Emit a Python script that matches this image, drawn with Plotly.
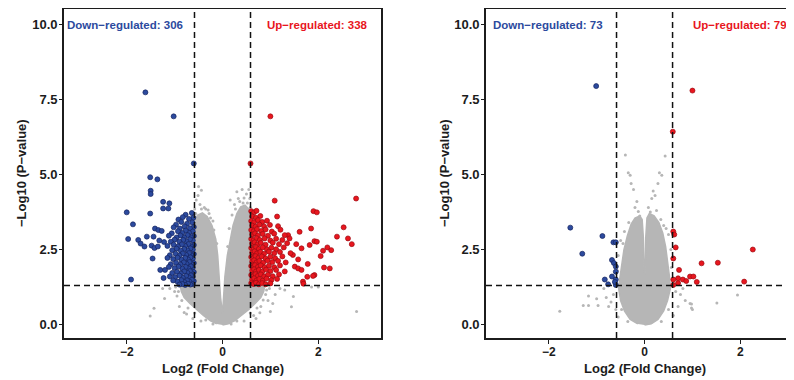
import plotly.graph_objects as go

# ---------------- data ----------------
FC_CUT = 0.585   # log2(1.5)
P_CUT = 1.301    # -log10(0.05)

# Left panel: dense grey core (outline of the non-significant cloud)
L_core_x = [0.0, 0.12, 0.25, 0.4, 0.55, 0.68, 0.8, 0.86, 0.88, 0.6, 0.6, 0.55, 0.47, 0.38, 0.3, 0.22, 0.16,
            0.1, 0.05, 0.02, 0.0, -0.04, -0.07, -0.1, -0.14, -0.22, -0.32, -0.42, -0.52, -0.6, -0.6, -0.88,
            -0.86, -0.8, -0.68, -0.55, -0.4, -0.25, -0.12]
L_core_y = [-0.02, 0.02, 0.12, 0.3, 0.5, 0.7, 0.9, 1.1, 1.28, 1.3, 3.5, 3.85, 3.98, 3.92, 3.7, 3.3, 2.85,
            2.3, 1.6, 0.9, 0.35, 0.9, 1.6, 2.3, 2.85, 3.3, 3.6, 3.72, 3.65, 3.45, 1.3, 1.28,
            1.1, 0.9, 0.7, 0.5, 0.3, 0.12, 0.02]

L_grey = [(-0.5, 4.6), (-0.44, 4.48), (-0.51, 4.3), (-0.55, 4.15), (-0.47, 4.0), (-0.38, 3.9), (-0.3, 3.82),
          (-0.25, 3.55), (-0.58, 3.85), (0.3, 4.43), (0.33, 4.2), (0.16, 4.15), (0.41, 4.5), (0.5, 4.35),
          (0.55, 4.5), (0.45, 4.22), (0.25, 4.0), (0.2, 3.65), (0.57, 4.2), (0.14, 3.2), (-0.18, 3.15),
          (0.52, 4.05), (0.36, 4.1), (0.27, 3.85), (-0.2, 3.45), (-0.35, 3.85), (-0.56, 3.7), (-0.12, 2.7),
          (0.11, 2.6), (-0.44, 3.85), (0.43, 4.05), (0.58, 3.9), (-0.28, 3.7),
          (-1.21, 0.87), (-1.43, 0.54), (-1.51, 0.28), (-1.0, 1.1), (-1.1, 1.2), (-0.95, 0.95), (-0.9, 0.6),
          (-0.8, 0.4), (-1.25, 1.2), (-0.98, 1.25), (-0.75, 0.35), (-0.62, 0.2), (-0.45, 0.12),
          (-0.92, 1.1), (-0.85, 0.8), (-0.72, 0.55), (-0.58, 0.38), (-0.35, 0.15), (-0.2, 0.02),
          (1.48, 0.93), (1.44, 0.59), (2.8, 0.43), (1.0, 0.43), (0.78, 0.39), (1.1, 1.0), (1.2, 1.2),
          (0.95, 0.8), (0.8, 0.6), (1.3, 1.15), (0.98, 1.2), (0.9, 1.0), (1.05, 0.7), (0.65, 0.3),
          (0.45, 0.12), (1.86, 1.25), (2.0, 1.25), (0.7, 0.2), (0.92, 1.15), (0.85, 0.82), (0.72, 0.55),
          (0.58, 0.38), (0.3, 0.12), (0.18, 0.02)]

L_down = [(-1.61, 7.74), (-1.02, 6.94), (-0.6, 5.37), (-1.51, 4.91), (-1.36, 4.84), (-1.5, 4.46), (-1.5, 4.35),
          (-1.24, 4.09), (-1.11, 4.04), (-1.24, 3.87), (-1.13, 3.87), (-2.0, 3.74), (-1.51, 3.7), (-1.87, 3.34),
          (-1.41, 3.2), (-1.34, 3.15), (-1.27, 3.12), (-1.58, 2.93), (-1.44, 2.93), (-1.97, 2.85), (-1.76, 2.82),
          (-1.71, 2.7), (-1.63, 2.6), (-1.48, 2.63), (-1.42, 2.55), (-1.32, 2.8), (-1.22, 2.75), (-1.35, 2.6),
          (-1.46, 2.2), (-1.3, 1.82), (-1.2, 1.82), (-1.91, 1.5), (-1.23, 1.55), (-1.1, 1.6),
          (-0.64, 3.72), (-0.77, 3.66),
          (-0.61, 3.56), (-0.7, 3.52), (-0.83, 3.58), (-0.92, 3.5),
          (-0.63, 3.4), (-0.74, 3.36), (-0.86, 3.42), (-0.97, 3.33),
          (-0.6, 3.25), (-0.68, 3.21), (-0.79, 3.27), (-0.89, 3.2), (-1.02, 3.24),
          (-0.62, 3.1), (-0.7, 3.06), (-0.77, 3.13), (-0.84, 3.05), (-0.93, 3.11), (-1.06, 3.04),
          (-0.6, 2.95), (-0.66, 2.91), (-0.73, 2.98), (-0.8, 2.9), (-0.88, 2.97), (-0.96, 2.9), (-1.12, 2.96),
          (-0.62, 2.8), (-0.68, 2.84), (-0.75, 2.77), (-0.82, 2.82), (-0.9, 2.76), (-1.0, 2.83), (-1.08, 2.76),
          (-0.6, 2.65), (-0.66, 2.61), (-0.71, 2.68), (-0.78, 2.62), (-0.85, 2.67), (-0.93, 2.6), (-1.02, 2.66), (-1.15, 2.62),
          (-0.62, 2.5), (-0.67, 2.54), (-0.73, 2.47), (-0.8, 2.52), (-0.87, 2.46), (-0.96, 2.53), (-1.05, 2.48),
          (-0.6, 2.35), (-0.65, 2.31), (-0.7, 2.38), (-0.76, 2.32), (-0.83, 2.37), (-0.9, 2.3), (-0.98, 2.36), (-1.1, 2.31),
          (-0.62, 2.2), (-0.67, 2.24), (-0.72, 2.17), (-0.78, 2.22), (-0.86, 2.16), (-0.94, 2.23), (-1.03, 2.18), (-1.15, 2.22),
          (-0.6, 2.05), (-0.64, 2.01), (-0.69, 2.08), (-0.75, 2.02), (-0.81, 2.07), (-0.88, 2.0), (-0.97, 2.06), (-1.08, 2.01),
          (-0.62, 1.9), (-0.66, 1.94), (-0.71, 1.87), (-0.77, 1.92), (-0.84, 1.86), (-0.92, 1.93), (-1.0, 1.88), (-1.12, 1.92),
          (-0.6, 1.75), (-0.64, 1.71), (-0.68, 1.78), (-0.73, 1.72), (-0.8, 1.77), (-0.87, 1.7), (-0.95, 1.76), (-1.05, 1.72),
          (-0.62, 1.6), (-0.66, 1.64), (-0.7, 1.57), (-0.76, 1.62), (-0.83, 1.56), (-0.9, 1.63), (-0.99, 1.58),
          (-0.6, 1.45), (-0.64, 1.49), (-0.69, 1.43), (-0.74, 1.47), (-0.8, 1.42), (-0.86, 1.48), (-0.94, 1.43), (-1.03, 1.47),
          (-0.62, 1.35), (-0.67, 1.33), (-0.72, 1.36), (-0.78, 1.32), (-0.84, 1.35), (-0.9, 1.33)]

L_up = [(1.0, 6.94), (0.585, 5.37), (1.09, 4.13), (2.79, 4.2), (1.9, 3.78), (1.97, 3.74), (1.14, 3.6), (1.85, 3.2),
        (2.53, 3.24), (2.62, 2.87), (2.7, 2.68), (2.39, 2.93), (1.92, 2.78), (1.97, 2.76), (1.82, 2.65), (2.19, 2.57),
        (2.27, 2.48), (2.1, 2.46), (2.05, 2.28), (1.78, 2.02), (2.12, 1.9), (2.24, 1.87), (1.92, 1.65), (1.77, 1.59),
        (1.68, 1.43), (1.51, 1.93), (1.58, 1.87), (1.65, 1.82), (1.47, 2.32), (1.58, 2.17), (1.65, 2.54), (1.54, 2.68),
        (1.61, 3.09), (1.37, 2.98), (1.4, 2.87), (1.89, 1.62), (1.69, 1.36),
        (0.6, 3.78), (0.66, 3.74), (0.71, 3.79),
        (0.62, 3.6), (0.7, 3.56), (0.79, 3.62),
        (0.6, 3.45), (0.66, 3.41), (0.74, 3.48), (0.83, 3.42), (0.93, 3.46),
        (0.62, 3.3), (0.69, 3.26), (0.77, 3.33), (0.87, 3.27), (0.99, 3.32), (1.16, 3.28),
        (0.6, 3.15), (0.65, 3.11), (0.72, 3.18), (0.81, 3.12), (0.9, 3.17), (1.03, 3.1), (1.21, 3.16),
        (0.62, 3.0), (0.68, 3.04), (0.74, 2.97), (0.84, 3.02), (0.95, 2.96), (1.08, 3.03), (1.3, 2.98),
        (0.6, 2.85), (0.65, 2.81), (0.71, 2.88), (0.78, 2.82), (0.88, 2.87), (1.0, 2.8), (1.12, 2.86), (1.25, 2.82),
        (0.62, 2.7), (0.67, 2.74), (0.73, 2.67), (0.8, 2.72), (0.9, 2.66), (1.05, 2.73), (1.18, 2.68), (1.35, 2.71),
        (0.6, 2.55), (0.65, 2.51), (0.7, 2.58), (0.76, 2.52), (0.84, 2.57), (0.93, 2.5), (1.02, 2.56), (1.12, 2.51), (1.28, 2.57),
        (0.62, 2.4), (0.67, 2.44), (0.72, 2.37), (0.79, 2.42), (0.87, 2.36), (0.97, 2.43), (1.08, 2.38), (1.2, 2.42), (1.42, 2.38),
        (0.6, 2.25), (0.64, 2.21), (0.69, 2.28), (0.75, 2.22), (0.82, 2.27), (0.9, 2.2), (1.0, 2.26), (1.1, 2.21), (1.25, 2.27),
        (0.62, 2.1), (0.66, 2.14), (0.71, 2.07), (0.77, 2.12), (0.85, 2.06), (0.94, 2.13), (1.04, 2.08), (1.16, 2.12), (1.32, 2.07),
        (0.6, 1.95), (0.64, 1.91), (0.68, 1.98), (0.74, 1.92), (0.8, 1.97), (0.88, 1.9), (0.97, 1.96), (1.08, 1.91), (1.2, 1.97),
        (0.62, 1.8), (0.66, 1.84), (0.7, 1.77), (0.76, 1.82), (0.83, 1.76), (0.91, 1.83), (1.0, 1.78), (1.12, 1.82), (1.3, 1.77),
        (0.6, 1.65), (0.64, 1.61), (0.69, 1.68), (0.74, 1.62), (0.8, 1.67), (0.87, 1.6), (0.95, 1.66), (1.05, 1.61), (1.18, 1.67),
        (0.62, 1.5), (0.66, 1.54), (0.71, 1.47), (0.77, 1.52), (0.84, 1.46), (0.92, 1.53), (1.02, 1.48), (1.14, 1.52),
        (0.6, 1.38), (0.65, 1.35), (0.7, 1.39), (0.76, 1.34), (0.83, 1.38), (0.9, 1.34), (1.0, 1.37)]

# Right panel
R_core_x = [0.0, 0.14, 0.28, 0.4, 0.48, 0.54, 0.52, 0.48, 0.44, 0.38, 0.3, 0.2, 0.1, 0.05, 0.025, 0.01, -0.01,
            -0.025, -0.05, -0.1, -0.2, -0.28, -0.36, -0.43, -0.48, -0.52, -0.54, -0.5, -0.42, -0.3, -0.14]
R_core_y = [-0.02, 0.02, 0.17, 0.45, 0.8, 1.2, 1.6, 2.1, 2.6, 3.05, 3.4, 3.62, 3.7, 3.55, 2.9, 1.7, 1.7,
            2.9, 3.5, 3.62, 3.55, 3.35, 2.95, 2.5, 2.0, 1.5, 1.2, 0.8, 0.45, 0.17, 0.02]

R_grey = [(-0.4, 5.65), (0.43, 5.62), (-0.34, 5.06), (-0.3, 4.98), (0.31, 5.06), (0.36, 4.98), (-0.28, 4.7),
          (-0.23, 4.5), (0.18, 4.45), (0.22, 4.3), (-0.16, 4.1), (-0.13, 3.77), (0.15, 4.2), (0.08, 3.9),
          (0.28, 4.7), (-0.2, 3.9), (0.25, 3.8), (0.45, 3.2), (-0.42, 3.1), (0.55, 2.5), (-0.55, 2.3),
          (0.5, 3.0), (-0.5, 2.8), (-0.57, 1.8), (0.56, 1.9), (0.34, 3.5), (-0.33, 3.4), (0.12, 3.75),
          (-0.1, 3.62), (0.4, 3.3), (-0.45, 2.7),
          (1.94, 0.98), (1.51, 0.72), (0.98, 0.68), (0.98, 0.55), (1.0, 0.5), (0.95, 0.7), (-1.77, 0.44),
          (-1.28, 0.63), (-1.17, 0.63), (-1.17, 0.95), (-1.0, 0.86), (-0.97, 0.63), (-0.8, 0.9), (-0.75, 0.6),
          (0.75, 1.0), (0.85, 0.8), (0.7, 0.6), (0.65, 1.1), (-0.65, 1.0), (-0.7, 0.75), (-0.6, 0.5),
          (0.6, 0.3), (-0.55, 0.25), (0.8, 1.2), (-0.85, 1.2), (0.35, 0.1), (-0.35, 0.1), (0.5, 0.5),
          (-0.48, 0.5)]

R_down = [(-1.01, 7.95), (-1.55, 3.23), (-0.88, 2.95), (-1.3, 2.36), (-0.65, 2.74), (-0.6, 2.74), (-0.68, 2.15),
          (-0.64, 2.05), (-0.6, 1.93), (-0.6, 1.76), (-0.68, 1.6), (-0.83, 1.5), (-0.76, 1.34), (-0.6, 1.5),
          (-0.6, 1.32), (-0.62, 1.42)]

R_up = [(0.59, 6.43), (1.0, 7.8), (0.6, 3.1), (0.62, 3.0), (0.65, 2.57), (0.6, 2.2), (0.72, 1.82), (1.19, 2.04),
        (1.53, 2.06), (2.26, 2.5), (2.08, 1.43), (0.7, 1.54), (0.8, 1.5), (0.87, 1.45), (0.95, 1.6), (1.02, 1.6),
        (1.09, 1.42), (0.7, 1.38), (0.6, 1.5), (0.6, 1.32)]

labels_down = ["Down\u2212regulated: 306", "Down\u2212regulated: 73"]
labels_up = ["Up\u2212regulated: 338", "Up\u2212regulated: 79"]
x_title = "Log2 (Fold Change)"
y_title = "\u2212Log10 (P\u2212value)"
x_ticks = [-2, 0, 2]
y_ticks = [0, 2.5, 5, 7.5, 10]

# ---------------- figure ----------------
GREY = "#b6b6b6"
BLUE = "#2c4a9e"
BLUE_EDGE = "#15245e"
RED = "#e8161e"
RED_EDGE = "#9c0c12"
FONT = "Liberation Sans"

# the page body has an 8px margin: lay the figure out in window pixels shifted by 8
OFF = 8
W, H = 794 - OFF, 380 - OFF


def px(xw):
    return (xw - OFF) / W


def py(yw):
    return 1 - (yw - OFF) / H


fig = go.Figure()

panels = [
    dict(xa="x", ya="y", core=(L_core_x, L_core_y), grey=L_grey, down=L_down, up=L_up),
    dict(xa="x2", ya="y2", core=(R_core_x, R_core_y), grey=R_grey, down=R_down, up=R_up),
]

for p in panels:
    cx, cy = p["core"]
    fig.add_trace(go.Scatter(x=cx, y=cy, xaxis=p["xa"], yaxis=p["ya"], mode="lines", fill="toself",
                             fillcolor=GREY, line=dict(color=GREY, width=1.5), hoverinfo="skip",
                             showlegend=False))
    fig.add_trace(go.Scatter(x=[a for a, b in p["grey"]], y=[b for a, b in p["grey"]],
                             xaxis=p["xa"], yaxis=p["ya"], mode="markers",
                             marker=dict(color=GREY, size=3), showlegend=False))
    fig.add_trace(go.Scatter(x=[a for a, b in p["down"]], y=[b for a, b in p["down"]],
                             xaxis=p["xa"], yaxis=p["ya"], mode="markers",
                             marker=dict(color=BLUE, size=5, line=dict(color=BLUE_EDGE, width=0.7)),
                             showlegend=False))
    fig.add_trace(go.Scatter(x=[a for a, b in p["up"]], y=[b for a, b in p["up"]],
                             xaxis=p["xa"], yaxis=p["ya"], mode="markers",
                             marker=dict(color=RED, size=5, line=dict(color=RED_EDGE, width=0.7)),
                             showlegend=False))

ydom = [py(338), py(9)]
line_common = dict(showgrid=False, zeroline=False, showline=True, linecolor="#1c1c1c", linewidth=1.6,
                   ticks="outside", tickwidth=1.4, tickcolor="#1c1c1c")
xcommon = dict(ticklen=4, ticklabelstandoff=-2, tickvals=x_ticks, mirror=True,
               tickfont=dict(family=FONT, size=12, color="#1c1c1c", weight="bold"), **line_common)
ycommon = dict(ticklen=3, ticklabelstandoff=-1, tickvals=y_ticks, tickformat=".1f",
               range=[-0.45, 10.52], domain=ydom,
               tickfont=dict(family=FONT, size=13, color="#1c1c1c", weight="bold"), **line_common)

fig.update_layout(
    width=W, height=H, margin=dict(l=0, r=0, t=0, b=0),
    paper_bgcolor="white", plot_bgcolor="white", showlegend=False,
    xaxis=dict(domain=[px(64), px(381)], range=[-3.31, 3.31], **xcommon),
    yaxis=dict(mirror=True, **ycommon),
    xaxis2=dict(domain=[px(486), 1.0], range=[-3.31, 3.12], anchor="y2", **xcommon),
    yaxis2=dict(mirror=False, anchor="x2", **ycommon),
)

dash = "6px,4px"
shapes = []
for xa, ya in [("x", "y"), ("x2", "y2")]:
    for xv in (-FC_CUT, FC_CUT):
        shapes.append(dict(type="line", xref=xa, yref=f"{ya} domain", x0=xv, x1=xv, y0=0, y1=1,
                           line=dict(color="#111", width=1.5, dash=dash)))
    shapes.append(dict(type="line", xref=f"{xa} domain", yref=ya, x0=0, x1=1, y0=P_CUT, y1=P_CUT,
                       line=dict(color="#111", width=1.5, dash=dash)))
fig.update_layout(shapes=shapes)

ann = []
lbl_font = dict(family=FONT, size=11.5, weight="bold")
ann.append(dict(xref="x", yref="y", x=-3.29, y=10, text=labels_down[0], showarrow=False,
                xanchor="left", yanchor="middle", font=dict(color=BLUE, **lbl_font)))
ann.append(dict(xref="x", yref="y", x=3.08, y=10, text=labels_up[0], showarrow=False,
                xanchor="right", yanchor="middle", font=dict(color=RED, **lbl_font)))
ann.append(dict(xref="x2", yref="y2", x=-3.21, y=10, text=labels_down[1], showarrow=False,
                xanchor="left", yanchor="middle", font=dict(color=BLUE, **lbl_font)))
ann.append(dict(xref="x2", yref="y2", x=3.02, y=10, text=labels_up[1], showarrow=False,
                xanchor="right", yanchor="middle", font=dict(color=RED, **lbl_font)))
title_font = dict(family=FONT, size=13, color="#1c1c1c", weight="bold")
for xc in (222.5, 644.5):
    ann.append(dict(xref="paper", yref="paper", x=px(xc), y=py(368), text=x_title, showarrow=False,
                    xanchor="center", yanchor="middle", font=title_font))
for xc in (21, 444):
    ann.append(dict(xref="paper", yref="paper", x=px(xc), y=py(173), text=y_title, showarrow=False,
                    textangle=-90, xanchor="center", yanchor="middle", font=title_font))
fig.update_layout(annotations=ann)

fig.write_html("out.html")
